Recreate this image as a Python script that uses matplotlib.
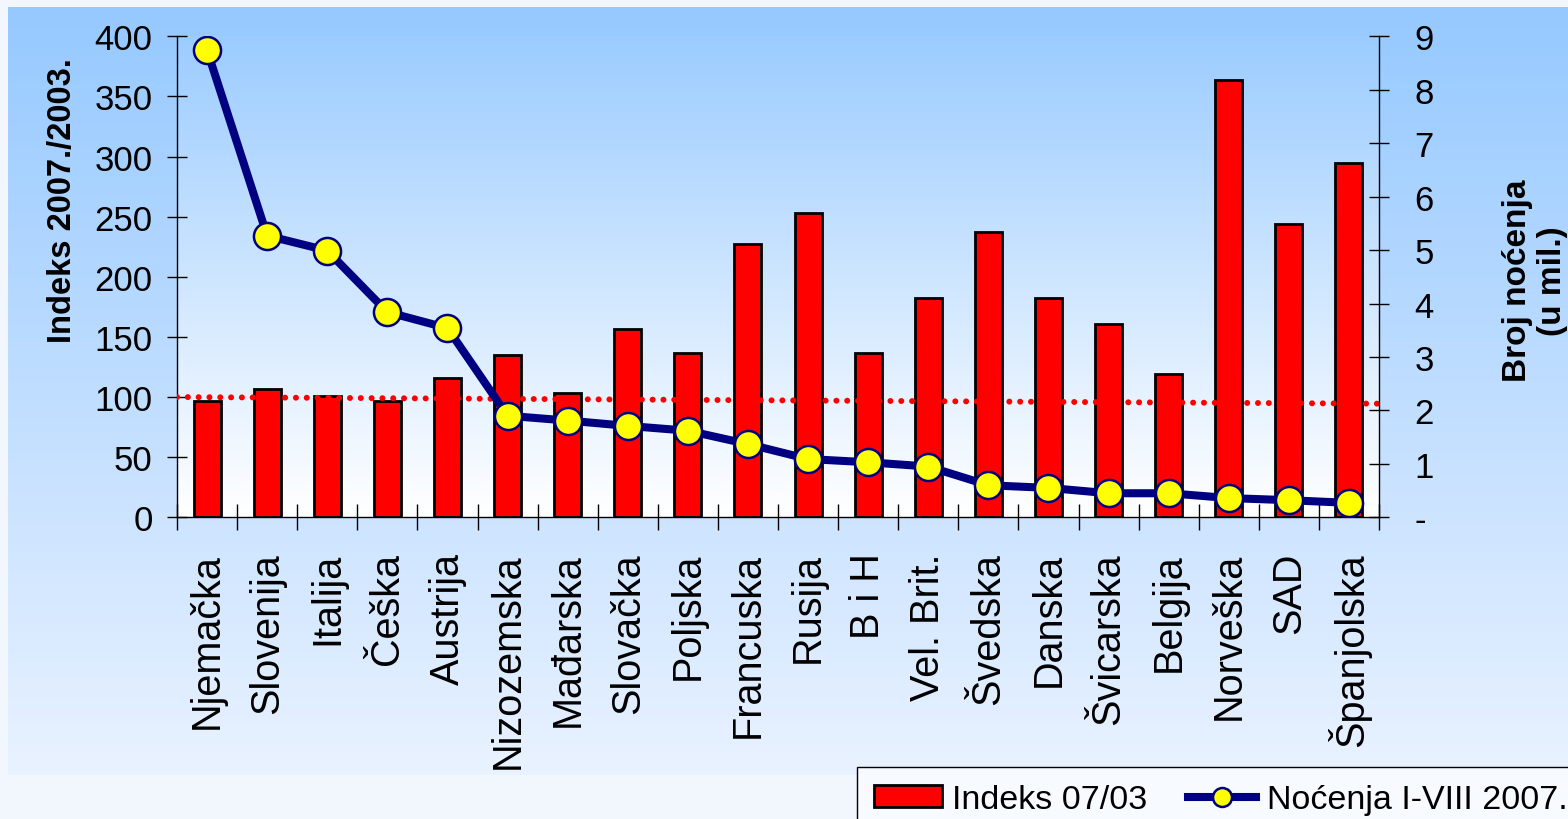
import numpy as np
import matplotlib
matplotlib.use("Agg")
import matplotlib.pyplot as plt
from matplotlib.colors import LinearSegmentedColormap
from matplotlib.patches import Rectangle

plt.rcParams["font.family"] = ["Liberation Sans", "DejaVu Sans"]

countries = ["Njemačka", "Slovenija", "Italija", "Češka", "Austrija",
             "Nizozemska", "Mađarska", "Slovačka", "Poljska", "Francuska",
             "Rusija", "B i H", "Vel. Brit.", "Švedska", "Danska",
             "Švicarska", "Belgija", "Norveška", "SAD", "Španjolska"]
# Indeks 07/03 (left axis)
indeks = [96.7, 107, 101, 96.5, 116, 135, 103.5, 156.5, 137, 227,
          253, 137, 182, 237.5, 182, 160.5, 119.5, 363.5, 244, 295]
# Noćenja I-VIII 2007. in millions (right axis)
nocenja = [8.74, 5.27, 4.99, 3.84, 3.54, 1.90, 1.81, 1.71, 1.62, 1.37,
           1.09, 1.03, 0.95, 0.60, 0.55, 0.45, 0.45, 0.36, 0.32, 0.27]
# dotted reference line at index 100 (start, end)
ref_line = [100, 94.5]

left_ticks = [0, 50, 100, 150, 200, 250, 300, 350, 400]
right_ticks = [0, 1, 2, 3, 4, 5, 6, 7, 8, 9]
right_tick_labels = ["-", "1", "2", "3", "4", "5", "6", "7", "8", "9"]

W, H = 1568, 820
fig = plt.figure(figsize=(W / 100, H / 100), dpi=100)

# background
bg = fig.add_axes([0, 0, 1, 1], zorder=-10)
bg.axis("off")
bg.add_patch(Rectangle((0, 0), W, H, color="#F2F7FD", zorder=0))
grad = np.linspace(0, 1, 256).reshape(-1, 1)
panel_cmap = LinearSegmentedColormap.from_list("panel", ["#96C9FF", "#E9F2FF"])
bg.imshow(grad, cmap=panel_cmap, extent=(8, W, 776, 8), aspect="auto",
          zorder=1)

ax = fig.add_axes([177 / W, 1 - 518.3 / H, (1379 - 177) / W, (518.3 - 37.3) / H])
ax.set_facecolor("none")

# plot area gradient
pos = ax.get_position()
plot_cmap = LinearSegmentedColormap.from_list("plot", ["#9CCCFF", "#FFFFFF"])
bg.imshow(grad, cmap=plot_cmap, aspect="auto", zorder=2,
          extent=(pos.x0 * W, pos.x1 * W, (1 - pos.y0) * H, (1 - pos.y1) * H))
bg.set_xlim(0, W)
bg.set_ylim(H, 0)

x = np.arange(len(countries))
bars = ax.bar(x, indeks, width=0.45, color="#FF0000", edgecolor="black",
              linewidth=2, zorder=2, label="Indeks 07/03")
ax.plot([-0.5, len(countries) - 0.5], ref_line, color="#FF0000", lw=4.3,
        linestyle=(0, (0.01, 1.8)), dash_capstyle="round", zorder=3)

ax.set_xlim(-0.5, len(countries) - 0.5)
ax.set_ylim(0, 400)
ax.set_yticks(left_ticks)
ax.set_xticks(np.arange(-0.5, len(countries), 1))
ax.set_xticks(x, minor=True)
ax.set_xticklabels(countries, minor=True, rotation=90)
ax.tick_params(axis="x", which="major", direction="inout", length=19,
               width=1, labelbottom=False)
ax.tick_params(axis="x", which="minor", length=0, pad=25, labelsize=28.5)
ax.tick_params(axis="y", direction="inout", length=15, width=1, pad=10,
               labelsize=25)

ax2 = ax.twinx()
line, = ax2.plot(x, nocenja, color="#000080", lw=5.8, marker="o", ms=19.5,
                 mfc="#FFFF00", mec="#000080", mew=1.8, zorder=4,
                 label="Noćenja I-VIII 2007.")
ax2.set_ylim(0, 9)
ax2.set_yticks(right_ticks)
ax2.set_yticklabels(right_tick_labels)
ax2.tick_params(axis="y", direction="inout", length=15, width=1, pad=18,
                labelsize=25)

for a in (ax, ax2):
    a.spines["top"].set_visible(False)
    for s in a.spines.values():
        s.set_color("black")
        s.set_linewidth(1)
ax.spines["right"].set_visible(False)
ax2.spines["left"].set_visible(False)
ax2.spines["bottom"].set_visible(False)

fig.text(63 / W, 1 - 201 / H, "Indeks 2007./2003.", rotation=90, ha="center",
         va="center", fontsize=23.5, fontweight="bold")
fig.text(1535 / W, 1 - 281 / H, "Broj noćenja\n(u mil.)", rotation=90,
         ha="center", va="center", multialignment="center", fontsize=24,
         fontweight="bold")

fig.legend([bars, line], ["Indeks 07/03", "Noćenja I-VIII 2007."],
           loc="upper left", bbox_to_anchor=(857 / W, 1 - 768 / H), ncol=2,
           frameon=True, fancybox=False, edgecolor="black", facecolor="#F7FAFF",
           framealpha=1, fontsize=24.5, handlelength=2.0, handleheight=0.6,
           handletextpad=0.3, columnspacing=1.2, borderpad=0.5,
           borderaxespad=0, markerscale=0.7)

fig.savefig("out.png", dpi=100)
